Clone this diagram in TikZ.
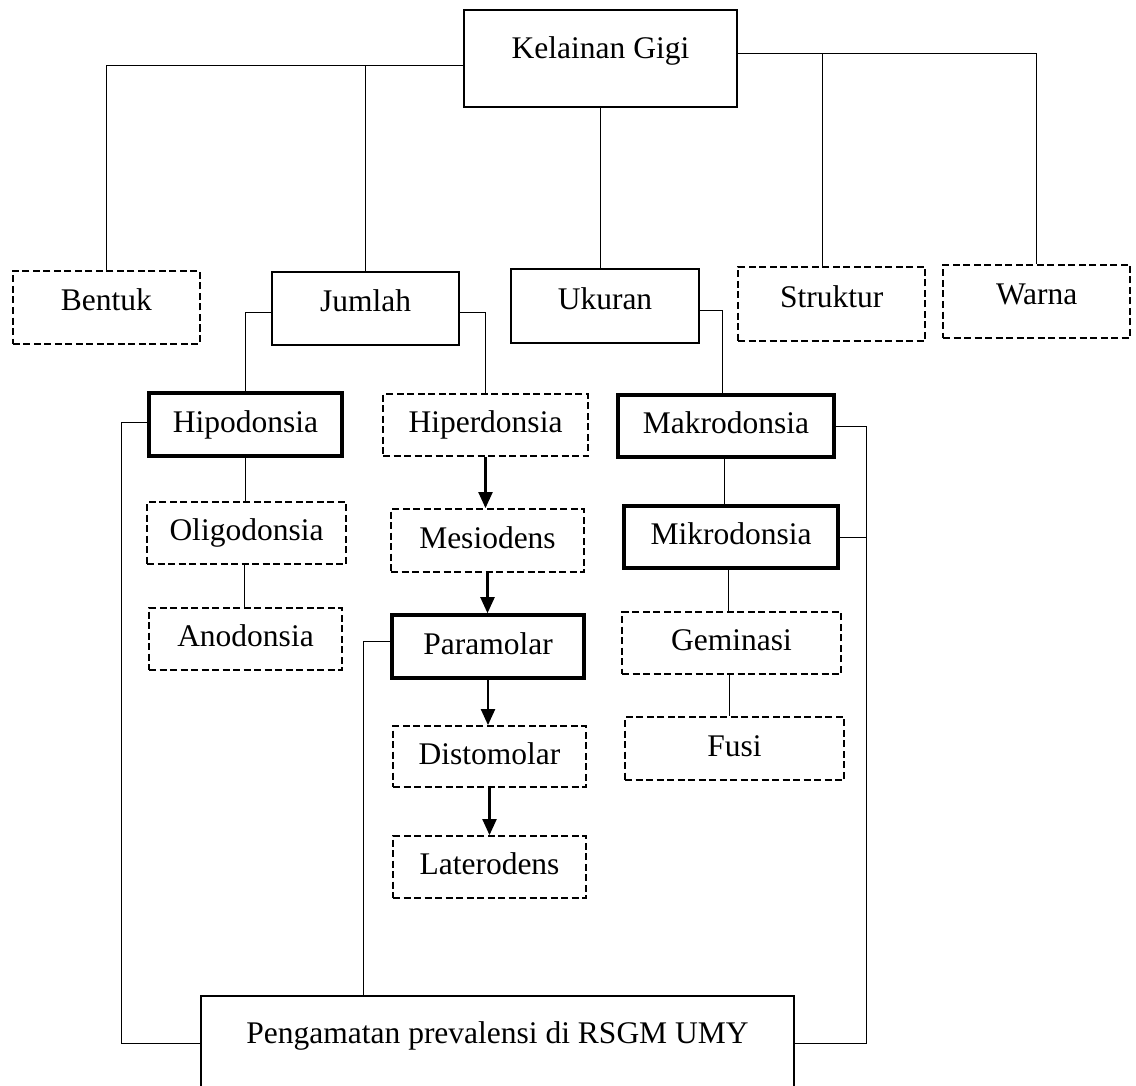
\documentclass[tikz,border=0pt]{standalone}
\usepackage{fontspec}
\setmainfont{Liberation Serif}
\usepackage{tikz}
\usetikzlibrary{arrows.meta}

\begin{document}
\begin{tikzpicture}[
          x=1pt,y=-1pt,
          every node/.style={font=\fontsize{31.5}{36}\selectfont,inner sep=0pt,text height=22pt,text depth=7pt},
          sz/.style 2 args={minimum width=#1pt,minimum height=#2pt},
          plainbox/.style={draw,line width=2pt},
          heavybox/.style={draw,line width=3.6pt},
          dashbox/.style={draw,line width=1.8pt,dash pattern=on 7pt off 3.5pt},
          toprow/.style={text depth=15pt},
          headrow/.style={text depth=22pt},
          link/.style={line width=0.9pt},
          flow/.style={line width=2.2pt,-{Triangle[length=16pt,width=14pt]}}
        ]
        \useasboundingbox (0,0) rectangle (1136,1086);
        % level 0
        \node [plainbox,headrow,line width=2.5pt,sz={273}{97}] (kg) at (600.5,58.5) {Kelainan Gigi};
        % level 1
        \node [dashbox,toprow,sz={187}{73}] (bentuk) at (106.3,307.5) {Bentuk};
        \node [plainbox,toprow,sz={187}{73}] (jumlah) at (365.5,308.5) {Jumlah};
        \node [plainbox,toprow,sz={188}{74}] (ukuran) at (605,306) {Ukuran};
        \node [dashbox,toprow,sz={187}{74}] (struktur) at (831.7,304) {Struktur};
        \node [dashbox,toprow,sz={187}{73}] (warna) at (1036.7,301.5) {Warna};
        % jumlah
        \node [heavybox,sz={193}{63}] (hipo) at (245.5,424.5) {Hipodonsia};
        \node [dashbox,sz={199}{62}] (oligo) at (246.5,533) {Oligodonsia};
        \node [dashbox,sz={193}{62}] (ano) at (245.5,639) {Anodonsia};
        \node [dashbox,sz={205}{62}] (hiper) at (485.5,425) {Hiperdonsia};
        \node [dashbox,sz={193}{63}] (mesio) at (487.5,540.5) {Mesiodens};
        \node [heavybox,sz={192}{63}] (para) at (488,646.5) {Paramolar};
        \node [dashbox,sz={193}{61}] (disto) at (489.5,756.5) {Distomolar};
        \node [dashbox,sz={193}{62}] (latero) at (489.5,867) {Laterodens};
        % ukuran
        \node [heavybox,sz={216}{62}] (makro) at (726,426) {Makrodonsia};
        \node [heavybox,sz={214}{62}] (mikro) at (731,537) {Mikrodonsia};
        \node [dashbox,sz={219}{62}] (gem) at (731.5,643) {Geminasi};
        \node [dashbox,sz={219}{63}] (fusi) at (734.5,748.5) {Fusi};
        % observation
        \node [plainbox,headrow,sz={593}{94}] (rsgm) at (497.5,1043) {Pengamatan prevalensi di RSGM UMY};

        \coordinate (lt) at ([yshift=-6.5]kg.west);
        \coordinate (rt) at ([yshift=5.5]kg.east);
        \draw [link] (lt) -| (bentuk.north);
        \draw [link] (jumlah.north) -- (jumlah.north |- lt);
        \draw [link] (kg.south) -- (kg.south |- ukuran.north);
        \draw [link] (rt) -| (warna.north);
        \draw [link] ([xshift=-9]struktur.north) -- ([xshift=-9]struktur.north |- rt);

        \draw [link] ([yshift=-3.5]jumlah.west) -| (hipo.north);
        \draw [link] ([yshift=-3.5]jumlah.east) -| (hiper.north);
        \draw [link] ([yshift=-4]ukuran.east) -| ([xshift=-4]makro.north);
        \draw [link] (hipo.south) -- (hipo.south |- oligo.north);
        \draw [link] ([xshift=-2]oligo.south) -- ([xshift=-2]oligo.south |- ano.north);
        \draw [link] ([xshift=-2]makro.south) -- ([xshift=-2]makro.south |- mikro.north);
        \draw [link] ([xshift=-3]mikro.south) -- ([xshift=-3]mikro.south |- gem.north);
        \draw [link] ([xshift=-2]gem.south) -- ([xshift=-2]gem.south |- fusi.north);

        \draw [flow] (hiper.south) -- (hiper.south |- mesio.north);
        \draw [flow] (mesio.south) -- (mesio.south |- para.north);
        \draw [flow] (para.south) -- (para.south |- disto.north);
        \draw [flow] (disto.south) -- (disto.south |- latero.north);

        \draw [link] ([yshift=2]hipo.west) -- ++(-26,0) |- (rsgm.west);
        \draw [link] ([yshift=5]para.west) -| ([xshift=-134]rsgm.north);
        \draw [link] (makro.east) -- ++(31,0) |- (rsgm.east);
        \draw [link] (mikro.east) -- ++(27,0);
    \end{tikzpicture}
\end{document}
